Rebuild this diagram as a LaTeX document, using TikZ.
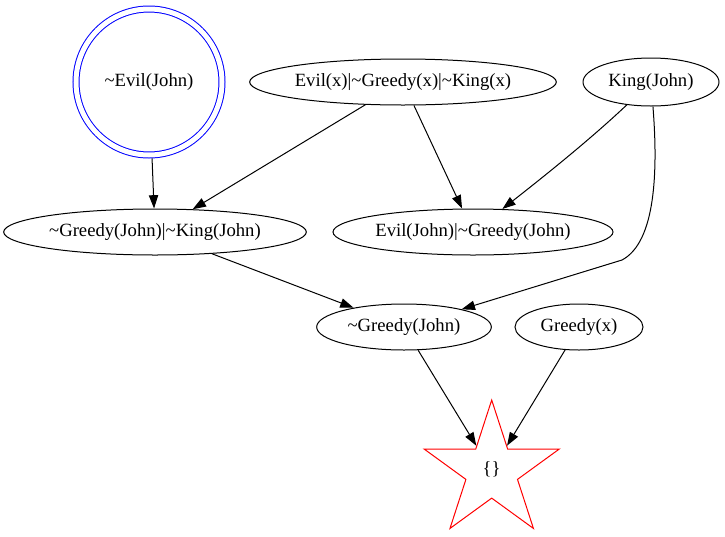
\documentclass[tikz,border=0pt]{standalone}
\usepackage{fontspec}
\setmainfont{Liberation Serif}
\usetikzlibrary{shapes.geometric,arrows.meta}
\newcommand{\tld}{\textasciitilde}
\begin{document}
\begin{tikzpicture}[x=0.75pt,y=-0.75pt,
  every node/.style={font=\fontsize{14pt}{16pt}\selectfont, inner sep=0pt},
  ell/.style={ellipse, draw, line width=0.75pt, minimum height=34.5pt},
  edge/.style={line width=0.75pt, -{Triangle[length=10pt,width=7pt]}}]
\useasboundingbox (0,0) rectangle (725,536);
\node[circle, draw=blue, double=white, double distance=3.75pt, line width=0.75pt, minimum size=109.5pt] (evil) at (149,82) {\tld Evil(John)};
\node[ell, minimum width=230pt] (rule) at (403,82) {Evil(x)|\tld Greedy(x)|\tld King(x)};
\node[ell, minimum width=102pt, minimum height=36pt] (king) at (651,82) {King(John)};
\node[ell, minimum width=227pt] (gk) at (155,232) {\tld Greedy(John)|\tld King(John)};
\node[ell, minimum width=210pt] (ejg) at (473,232) {Evil(John)|\tld Greedy(John)};
\node[ell, minimum width=131pt] (gj) at (404,327) {\tld Greedy(John)};
\node[ell, minimum width=96pt] (gx) at (579,327) {Greedy(x)};
\node[star, star points=5, star point ratio=2.618, draw=red, line width=0.75pt, minimum size=106.5pt] (goal) at (491.7,471) {\raisebox{4.5pt}{\{\}}};
\coordinate (bendK) at (622,260);
\draw[edge, shorten <=2.25pt] (evil) -- (gk);
\draw[edge] (rule) -- (gk);
\draw[edge] (rule) -- (ejg);
\draw[edge] (king) .. controls (596,134) and (556,167) .. (ejg);
\draw[edge] (king) .. controls (658,170) and (656,242) .. (bendK) -- (gj);
\draw[edge] (gk) -- (gj);
\draw[edge] (gj) -- (goal);
\draw[edge] (gx) -- (goal);
\end{tikzpicture}
\end{document}
